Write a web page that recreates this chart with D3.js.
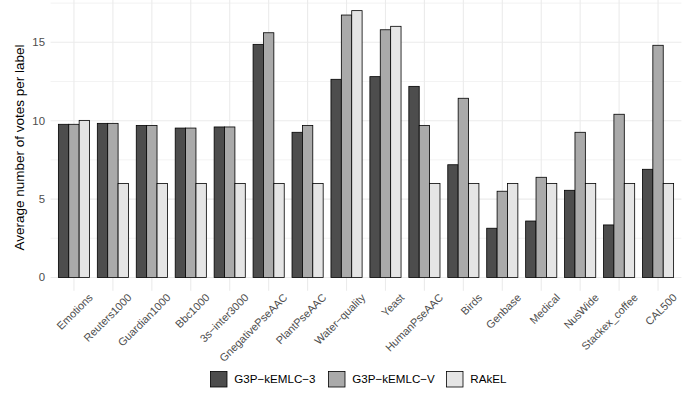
<!DOCTYPE html>
<html><head><meta charset="utf-8">
<script src="https://cdn.jsdelivr.net/npm/d3@7"></script>
<style>body{margin:0;background:#fff;} svg{display:block;font-family:"Liberation Sans",Arial,sans-serif;}</style>
</head><body>
<script>
const categories = ["Emotions","Reuters1000","Guardian1000","Bbc1000","3s\u2212inter3000","GnegativePseAAC","PlantPseAAC","Water\u2212quality","Yeast","HumanPseAAC","Birds","Genbase","Medical","NusWide","Stackex_coffee","CAL500"];
const seriesNames = ["G3P\u2212kEMLC\u22123","G3P\u2212kEMLC\u2212V","RAkEL"];
const g3p3 = [9.77,9.83,9.70,9.53,9.60,14.87,9.26,12.64,12.81,12.19,7.19,3.14,3.60,5.56,3.35,6.90];
const g3pV = [9.77,9.83,9.70,9.53,9.60,15.61,9.70,16.74,15.80,9.70,11.43,5.50,6.39,9.26,10.41,14.81];
const rakel = [10.02,6,6,6,6,6,6,17.02,16.02,6,6,6,6,6,6,6];
const yTicks = [0,5,10,15];
const colors = ["#4d4d4d","#aaaaaa","#e5e5e5"];

const W=697,H=397;
const svg=d3.select("body").append("svg").attr("width",W).attr("height",H);
const pLeft=50.6,pRight=681.4,pTop=-2.7,pBottom=290.8;
const maxV=d3.max([...g3p3,...g3pV,...rakel]);
const y=d3.scaleLinear().domain([-0.05*maxV,maxV*1.05]).range([pBottom,pTop]);
const x=d3.scaleBand().domain(categories).range([pLeft,pRight]).paddingInner(0).paddingOuter(0.1);
// grid
const minor=[2.5,7.5,12.5,17.5];
svg.append("g").selectAll("line").data(minor).join("line")
 .attr("x1",pLeft).attr("x2",pRight).attr("y1",d=>y(d)).attr("y2",d=>y(d)).attr("stroke","#ebebeb").attr("stroke-width",0.6);
svg.append("g").selectAll("line").data(yTicks).join("line")
 .attr("x1",pLeft).attr("x2",pRight).attr("y1",d=>y(d)).attr("y2",d=>y(d)).attr("stroke","#ebebeb").attr("stroke-width",1.1);
svg.append("g").selectAll("line").data(categories).join("line")
 .attr("x1",d=>x(d)+x.bandwidth()/2).attr("x2",d=>x(d)+x.bandwidth()/2).attr("y1",pTop).attr("y2",pBottom).attr("stroke","#ebebeb").attr("stroke-width",1.1);
// bars
const inner=d3.scaleBand().domain([0,1,2]).range([0,x.bandwidth()*0.8]);
const data=[g3p3,g3pV,rakel];
categories.forEach((c,i)=>{
  const x0=x(c)+x.bandwidth()*0.1;
  data.forEach((s,j)=>{
    svg.append("rect").attr("x",x0+inner(j)).attr("width",inner.bandwidth())
      .attr("y",y(s[i])).attr("height",y(0)-y(s[i]))
      .attr("fill",colors[j]).attr("stroke","#000").attr("stroke-width",0.8);
  });
});
// y axis labels
svg.append("g").selectAll("text").data(yTicks).join("text")
 .attr("x",45).attr("y",d=>y(d)).attr("dy","0.35em").attr("text-anchor","end")
 .attr("font-size",11.4).attr("fill","#4d4d4d").text(d=>d);
svg.append("text").attr("transform",`translate(23.8,147.5) rotate(-90)`)
 .attr("text-anchor","middle").attr("font-size",13.5).attr("fill","#000").text("Average number of votes per label");
// x labels
svg.append("g").selectAll("text").data(categories).join("text")
 .attr("transform",d=>`translate(${x(d)+x.bandwidth()/2+14},${pBottom+2}) rotate(-45)`)
 .attr("text-anchor","end").attr("dy","0.71em").attr("font-size",10.9).attr("fill","#4d4d4d").text(d=>d);
// legend
const lg=[210.5,328.5,446.5];
seriesNames.forEach((n,j)=>{
  svg.append("rect").attr("x",lg[j]).attr("y",371.5).attr("width",16.5).attr("height",15.5)
   .attr("fill",colors[j]).attr("stroke","#000").attr("stroke-width",0.8);
  svg.append("text").attr("x",lg[j]+23.8).attr("y",379.3).attr("dy","0.35em").attr("font-size",11.6).attr("fill","#000").text(n);
});
</script>
</body></html>
